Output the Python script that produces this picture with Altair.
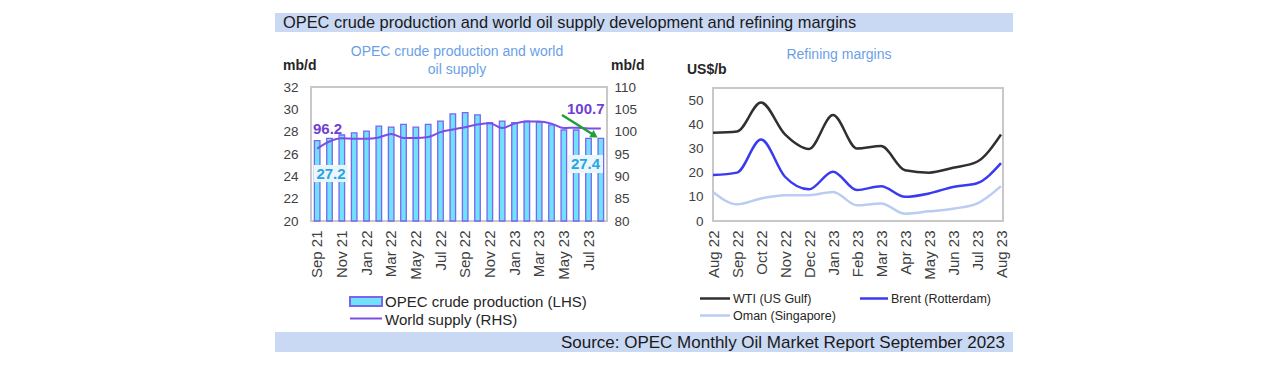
import altair as alt
import pandas as pd

# ---------------- data ----------------
left_months = ["Sep 21", "Oct 21", "Nov 21", "Dec 21", "Jan 22", "Feb 22", "Mar 22", "Apr 22",
               "May 22", "Jun 22", "Jul 22", "Aug 22", "Sep 22", "Oct 22", "Nov 22", "Dec 22",
               "Jan 23", "Feb 23", "Mar 23", "Apr 23", "May 23", "Jun 23", "Jul 23", "Aug 23"]
opec_production = [27.2, 27.4, 27.7, 27.9, 28.05, 28.5, 28.4, 28.65, 28.4, 28.65, 28.95, 29.6,
                   29.7, 29.5, 28.8, 28.95, 28.8, 28.95, 28.85, 28.6, 28.15, 28.15, 27.4, 27.4]
world_supply = [96.2, 97.8, 98.5, 98.4, 98.4, 98.7, 99.5, 98.6, 98.6, 98.8, 99.9, 100.5,
                101.0, 101.6, 101.9, 100.8, 101.8, 102.3, 102.3, 101.8, 100.8, 100.9, 100.7, 100.7]
left_tick_labels = left_months[::2]
lhs_ticks = [20, 22, 24, 26, 28, 30, 32]
rhs_ticks = [80, 85, 90, 95, 100, 105, 110]

right_months = ["Aug 22", "Sep 22", "Oct 22", "Nov 22", "Dec 22", "Jan 23", "Feb 23",
                "Mar 23", "Apr 23", "May 23", "Jun 23", "Jul 23", "Aug 23"]
wti_us_gulf = [36.5, 37.0, 49.0, 35.8, 29.8, 43.8, 30.0, 31.0, 21.0, 20.0, 22.0, 24.5, 35.8]
brent_rotterdam = [19.0, 20.0, 33.7, 18.3, 13.1, 20.4, 12.8, 14.4, 10.0, 11.4, 14.1, 15.6, 23.9]
oman_singapore = [12.0, 6.9, 9.3, 10.7, 10.7, 12.0, 6.5, 7.2, 3.0, 4.0, 5.1, 7.2, 14.4]
series_names = ["WTI (US Gulf)", "Brent (Rotterdam)", "Oman (Singapore)"]
series_colors = ["#303030", "#3a3af0", "#b9cdf2"]
margin_ticks = [0, 10, 20, 30, 40, 50]

# ---------------- setup ----------------
FONT = "Liberation Sans"
W, H = 1272, 356
one = pd.DataFrame({"k": [0]})
AX = dict(labelFont=FONT, labelColor="#404040", domain=False, ticks=False, grid=False, title=None)


def rect(x, x2, y, y2, **kw):
    return alt.Chart(one).mark_rect(**kw).encode(
        x=alt.value(x), x2=alt.value(x2), y=alt.value(y), y2=alt.value(y2))


def rule(x, x2, y, y2, **kw):
    return alt.Chart(one).mark_rule(**kw).encode(
        x=alt.value(x), x2=alt.value(x2), y=alt.value(y), y2=alt.value(y2))


def text(s, x, y, **kw):
    kw.setdefault("font", FONT)
    kw.setdefault("baseline", "middle")
    return alt.Chart(one).mark_text(text=s, **kw).encode(x=alt.value(x), y=alt.value(y))


layers = []

# title + source bars
layers.append(rect(267, 1005, 5, 24, fill="#c9d8f3"))
layers.append(text("OPEC crude production and world oil supply development and refining margins",
                   275, 14.5, align="left", fontSize=16.4, color="#1a1a1a"))
layers.append(rect(267, 1005, 324, 344, fill="#c9d8f3"))
layers.append(text("Source: OPEC Monthly Oil Market Report September 2023",
                   997, 334.5, align="right", fontSize=17, color="#1a1a1a"))

# ---------------- left panel ----------------
ldf = pd.DataFrame({"month": left_months, "prod": opec_production, "supply": world_supply})
lx = alt.Scale(domain=left_months, range=[303, 599], paddingInner=0.55, paddingOuter=0.275)
ly = alt.Scale(domain=[20, 32], range=[213, 79], zero=False, nice=False)
ry = alt.Scale(domain=[80, 110], range=[213, 79], zero=False, nice=False)

layers.append(rect(303, 599, 79, 213, fill="white", stroke="#c8c8c8", strokeWidth=2))

bars = alt.Chart(ldf).mark_bar(fill="#70e2fb", stroke="#7a66ee", strokeWidth=1.3).encode(
    x=alt.X("month:N", scale=lx,
            axis=alt.Axis(orient="bottom", offset=213 - H, values=left_tick_labels,
                          labelAngle=270, labelFontSize=15, labelPadding=9, **AX)),
    y=alt.Y("prod:Q", scale=ly,
            axis=alt.Axis(orient="left", offset=-303, values=lhs_ticks, labelFontSize=13.5,
                          labelPadding=13, **AX)),
    y2=alt.datum(20),
)
layers.append(bars)

supply_line = alt.Chart(ldf).mark_line(color="#7b4fe6", strokeWidth=2, interpolate="monotone").encode(
    x=alt.X("month:N", scale=lx, axis=None),
    y=alt.Y("supply:Q", scale=ry,
            axis=alt.Axis(orient="right", offset=599 - W, values=rhs_ticks, labelFontSize=13.5,
                          labelPadding=7, labelAlign="left", **AX)),
)
layers.append(supply_line)

# value labels
layers.append(rect(306, 340, 157, 174, fill="#eaf5fc"))
layers.append(text("27.2", 323, 165.5, align="center", fontSize=15, fontWeight="bold", color="#27a6e3"))
layers.append(rect(560, 595, 147, 165, fill="#eaf5fc"))
layers.append(text("27.4", 577.5, 156, align="center", fontSize=15, fontWeight="bold", color="#27a6e3"))
layers.append(text("96.2", 305, 121, align="left", fontSize=15, fontWeight="bold", color="#7040d4"))
layers.append(text("100.7", 559, 100.5, align="left", fontSize=15, fontWeight="bold", color="#7040d4"))

# green arrow
layers.append(rule(554, 585, 107, 126.5, color="#1f9f3a", strokeWidth=2.5))
layers.append(alt.Chart(one).mark_point(shape="triangle-right", filled=True, color="#1f9f3a",
                                        size=70, angle=32, opacity=1).encode(
    x=alt.value(586.5), y=alt.value(127.5)))

# titles
layers.append(text("OPEC crude production and world", 449, 44, align="center", fontSize=14, color="#6a9fe8"))
layers.append(text("oil supply", 449, 62, align="center", fontSize=14, color="#6a9fe8"))
layers.append(text("mb/d", 275, 58, align="left", fontSize=14, fontWeight="bold", color="#262626"))
layers.append(text("mb/d", 603, 58, align="left", fontSize=14, fontWeight="bold", color="#262626"))

# left legend
layers.append(rect(342, 374, 289, 298, fill="#70e2fb", stroke="#7a66ee", strokeWidth=2))
layers.append(text("OPEC crude production (LHS)", 377, 293.5, align="left", fontSize=15, color="#262626"))
layers.append(rule(342, 374, 310.5, 310.5, color="#7b4fe6", strokeWidth=2))
layers.append(text("World supply (RHS)", 377, 312, align="left", fontSize=15, color="#262626"))

# ---------------- right panel ----------------
rows = []
for name, vals in zip(series_names, [wti_us_gulf, brent_rotterdam, oman_singapore]):
    for m, v in zip(right_months, vals):
        rows.append({"month": m, "series": name, "value": v})
rdf = pd.DataFrame(rows)

layers.append(rect(705, 995, 80, 213, fill="white", stroke="#c8c8c8", strokeWidth=2))

margins = alt.Chart(rdf).mark_line(strokeWidth=2.5, interpolate="monotone").encode(
    x=alt.X("month:N", scale=alt.Scale(type="point", domain=right_months, range=[705, 993], padding=0),
            axis=alt.Axis(orient="bottom", offset=213 - H, labelAngle=270, labelFontSize=15,
                          labelPadding=9, **AX)),
    y=alt.Y("value:Q", scale=alt.Scale(domain=[0, 55], range=[213, 80], nice=False),
            axis=alt.Axis(orient="left", offset=-705, values=margin_ticks, labelFontSize=13.5,
                          labelPadding=10, **AX)),
    color=alt.Color("series:N", scale=alt.Scale(domain=series_names, range=series_colors), legend=None),
    order=alt.value(0),
)
layers.append(margins)

layers.append(text("Refining margins", 831, 47, align="center", fontSize=14, color="#6a9fe8"))
layers.append(text("US$/b", 679, 62, align="left", fontSize=14, fontWeight="bold", color="#262626"))

# right legend
layers.append(rule(692, 722, 290.5, 290.5, color=series_colors[0], strokeWidth=2.5))
layers.append(text(series_names[0], 725, 291, align="left", fontSize=12.5, color="#262626"))
layers.append(rule(852, 880, 290.5, 290.5, color=series_colors[1], strokeWidth=2.5))
layers.append(text(series_names[1], 883, 291, align="left", fontSize=12.5, color="#262626"))
layers.append(rule(692, 722, 307.5, 307.5, color=series_colors[2], strokeWidth=2.5))
layers.append(text(series_names[2], 725, 308, align="left", fontSize=12.5, color="#262626"))

chart = alt.layer(*layers).resolve_scale(
    x="independent", y="independent", color="independent"
).properties(
    width=W, height=H, autosize=alt.AutoSizeParams(type="none"), padding=0
).configure_view(stroke=None)

chart.save("out.html", embed_options={"renderer": "svg", "actions": False})
